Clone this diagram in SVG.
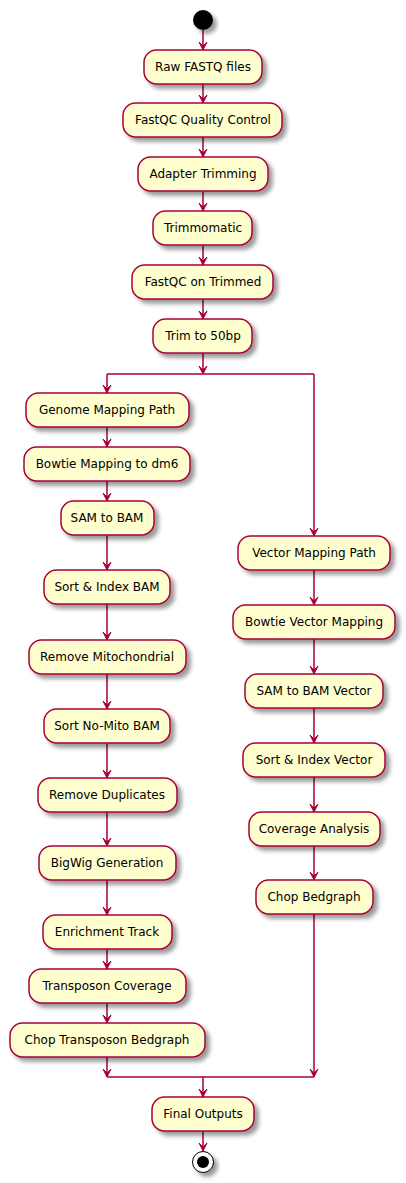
<svg xmlns="http://www.w3.org/2000/svg" width="406" height="1183" viewBox="0 0 406 1183">
<style>
.n rect{fill:#FEFECE;stroke:#A80036;stroke-width:1.5}
.n text{font-family:"DejaVu Sans",sans-serif;font-size:12px;fill:#000;text-anchor:middle}
.c line{stroke:#A80036;stroke-width:1.5}
.c polygon{fill:#A80036;stroke:#A80036;stroke-width:1}
</style>
<defs>
<filter id="sh" x="-20%" y="-20%" width="150%" height="170%">
<feGaussianBlur in="SourceAlpha" stdDeviation="2"/>
<feOffset dx="4" dy="4" result="b"/>
<feComponentTransfer><feFuncA type="linear" slope="0.4"/></feComponentTransfer>
<feMerge><feMergeNode/><feMergeNode in="SourceGraphic"/></feMerge>
</filter>
<polygon id="ah" points="-4,-8 0,0 4,-8 0,-4"/>
</defs>
<g id="connectors" class="c">
<line x1="203" y1="30" x2="203" y2="50"/><polygon points="199,42 203,50 207,42 203,46"/>
<line x1="203" y1="84" x2="203" y2="103"/><polygon points="199,95 203,103 207,95 203,99"/>
<line x1="203" y1="137" x2="203" y2="157"/><polygon points="199,149 203,157 207,149 203,153"/>
<line x1="203" y1="191" x2="203" y2="211"/><polygon points="199,203 203,211 207,203 203,207"/>
<line x1="203" y1="245" x2="203" y2="265"/><polygon points="199,257 203,265 207,257 203,261"/>
<line x1="203" y1="299" x2="203" y2="319"/><polygon points="199,311 203,319 207,311 203,315"/>
<line x1="203" y1="353" x2="203" y2="374"/><polygon points="199,366 203,374 207,366 203,370"/>
<line x1="107" y1="374" x2="314" y2="374"/>
<line x1="107" y1="374" x2="107" y2="393"/><polygon points="103,385 107,393 111,385 107,389"/>
<line x1="314" y1="374" x2="314" y2="536"/><polygon points="310,528 314,536 318,528 314,532"/>
<line x1="107" y1="427" x2="107" y2="447"/><polygon points="103,439 107,447 111,439 107,443"/>
<line x1="107" y1="481" x2="107" y2="501"/><polygon points="103,493 107,501 111,493 107,497"/>
<line x1="107" y1="535" x2="107" y2="570"/><polygon points="103,562 107,570 111,562 107,566"/>
<line x1="107" y1="604" x2="107" y2="640"/><polygon points="103,632 107,640 111,632 107,636"/>
<line x1="107" y1="674" x2="107" y2="709"/><polygon points="103,701 107,709 111,701 107,705"/>
<line x1="107" y1="743" x2="107" y2="778"/><polygon points="103,770 107,778 111,770 107,774"/>
<line x1="107" y1="812" x2="107" y2="846"/><polygon points="103,838 107,846 111,838 107,842"/>
<line x1="107" y1="880" x2="107" y2="915"/><polygon points="103,907 107,915 111,907 107,911"/>
<line x1="107" y1="949" x2="107" y2="969"/><polygon points="103,961 107,969 111,961 107,965"/>
<line x1="107" y1="1003" x2="107" y2="1023"/><polygon points="103,1015 107,1023 111,1015 107,1019"/>
<line x1="107" y1="1057" x2="107" y2="1077"/><polygon points="103,1069 107,1077 111,1069 107,1073"/>
<line x1="314" y1="570" x2="314" y2="605"/><polygon points="310,597 314,605 318,597 314,601"/>
<line x1="314" y1="639" x2="314" y2="674"/><polygon points="310,666 314,674 318,666 314,670"/>
<line x1="314" y1="708" x2="314" y2="743"/><polygon points="310,735 314,743 318,735 314,739"/>
<line x1="314" y1="777" x2="314" y2="812"/><polygon points="310,804 314,812 318,804 314,808"/>
<line x1="314" y1="846" x2="314" y2="880"/><polygon points="310,872 314,880 318,872 314,876"/>
<line x1="314" y1="914" x2="314" y2="1077"/><polygon points="310,1069 314,1077 318,1069 314,1073"/>
<line x1="107" y1="1077" x2="314" y2="1077"/>
<line x1="203" y1="1077" x2="203" y2="1097"/><polygon points="199,1089 203,1097 207,1089 203,1093"/>
<line x1="203" y1="1131" x2="203" y2="1151"/><polygon points="199,1143 203,1151 207,1143 203,1147"/>
</g>
<g id="start"><circle cx="203" cy="20" r="10" fill="#000" filter="url(#sh)"/></g>
<g id="n1" class="n"><rect x="144" y="50" width="118" height="34" rx="12.5" filter="url(#sh)"/><text x="203" y="71">Raw FASTQ files</text></g>
<g id="n2" class="n"><rect x="123" y="103" width="159" height="34" rx="12.5" filter="url(#sh)"/><text x="203" y="124">FastQC Quality Control</text></g>
<g id="n3" class="n"><rect x="138" y="157" width="130" height="34" rx="12.5" filter="url(#sh)"/><text x="203" y="178">Adapter Trimming</text></g>
<g id="n4" class="n"><rect x="153" y="211" width="99" height="34" rx="12.5" filter="url(#sh)"/><text x="203" y="232">Trimmomatic</text></g>
<g id="n5" class="n"><rect x="132" y="265" width="141" height="34" rx="12.5" filter="url(#sh)"/><text x="203" y="286">FastQC on Trimmed</text></g>
<g id="n6" class="n"><rect x="153" y="319" width="99" height="34" rx="12.5" filter="url(#sh)"/><text x="203" y="340">Trim to 50bp</text></g>
<g id="g1" class="n"><rect x="26" y="393" width="163" height="34" rx="12.5" filter="url(#sh)"/><text x="107" y="414">Genome Mapping Path</text></g>
<g id="g2" class="n"><rect x="24" y="447" width="166" height="34" rx="12.5" filter="url(#sh)"/><text x="107" y="468">Bowtie Mapping to dm6</text></g>
<g id="g3" class="n"><rect x="61" y="501" width="93" height="34" rx="12.5" filter="url(#sh)"/><text x="107" y="522">SAM to BAM</text></g>
<g id="g4" class="n"><rect x="44" y="570" width="126" height="34" rx="12.5" filter="url(#sh)"/><text x="107" y="591">Sort &amp; Index BAM</text></g>
<g id="g5" class="n"><rect x="29" y="640" width="157" height="34" rx="12.5" filter="url(#sh)"/><text x="107" y="661">Remove Mitochondrial</text></g>
<g id="g6" class="n"><rect x="44" y="709" width="126" height="34" rx="12.5" filter="url(#sh)"/><text x="107" y="730">Sort No-Mito BAM</text></g>
<g id="g7" class="n"><rect x="38" y="778" width="139" height="34" rx="12.5" filter="url(#sh)"/><text x="107" y="799">Remove Duplicates</text></g>
<g id="g8" class="n"><rect x="39" y="846" width="137" height="34" rx="12.5" filter="url(#sh)"/><text x="107" y="867">BigWig Generation</text></g>
<g id="g9" class="n"><rect x="43" y="915" width="129" height="34" rx="12.5" filter="url(#sh)"/><text x="107" y="936">Enrichment Track</text></g>
<g id="g10" class="n"><rect x="29" y="969" width="157" height="34" rx="12.5" filter="url(#sh)"/><text x="107" y="990">Transposon Coverage</text></g>
<g id="g11" class="n"><rect x="10" y="1023" width="195" height="34" rx="12.5" filter="url(#sh)"/><text x="107" y="1044">Chop Transposon Bedgraph</text></g>
<g id="v1" class="n"><rect x="238" y="536" width="152" height="34" rx="12.5" filter="url(#sh)"/><text x="314" y="557">Vector Mapping Path</text></g>
<g id="v2" class="n"><rect x="233" y="605" width="162" height="34" rx="12.5" filter="url(#sh)"/><text x="314" y="626">Bowtie Vector Mapping</text></g>
<g id="v3" class="n"><rect x="245" y="674" width="138" height="34" rx="12.5" filter="url(#sh)"/><text x="314" y="695">SAM to BAM Vector</text></g>
<g id="v4" class="n"><rect x="243" y="743" width="142" height="34" rx="12.5" filter="url(#sh)"/><text x="314" y="764">Sort &amp; Index Vector</text></g>
<g id="v5" class="n"><rect x="249" y="812" width="131" height="34" rx="12.5" filter="url(#sh)"/><text x="314" y="833">Coverage Analysis</text></g>
<g id="v6" class="n"><rect x="256" y="880" width="117" height="34" rx="12.5" filter="url(#sh)"/><text x="314" y="901">Chop Bedgraph</text></g>
<g id="final" class="n"><rect x="152" y="1097" width="102" height="34" rx="12.5" filter="url(#sh)"/><text x="203" y="1118">Final Outputs</text></g>
<g id="end"><circle cx="203" cy="1162" r="10.5" fill="#fff" stroke="#000" stroke-width="1" filter="url(#sh)"/><circle cx="203" cy="1162" r="6" fill="#000"/></g>
</svg>
